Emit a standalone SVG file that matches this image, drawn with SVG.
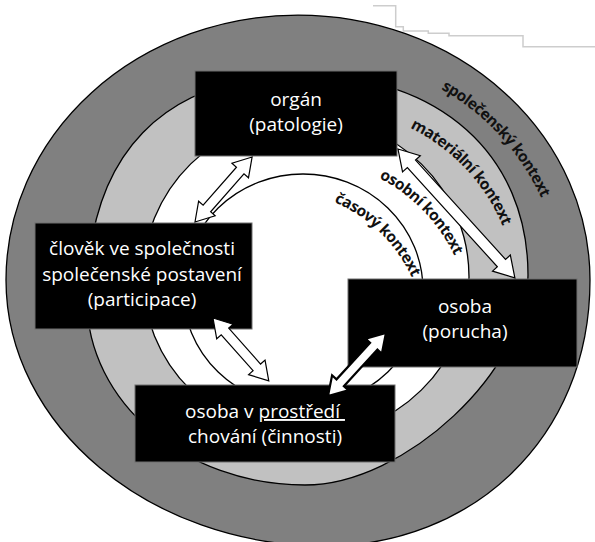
<svg xmlns="http://www.w3.org/2000/svg" width="595" height="542" viewBox="0 0 595 542">
  <defs>
    <style>
      .ring { stroke: #000; stroke-width: 1.3; }
      .box { fill: #000; stroke: #6e6e6e; stroke-width: 1; }
      .lbl { font-family: "Open Sans", "Noto Sans", "DejaVu Sans", sans-serif; font-size: 19px; fill: #fff; text-anchor: middle; }
      .ctx { font-family: "Open Sans", "Noto Sans", "DejaVu Sans", sans-serif; font-size: 15.5px; font-weight: 700; letter-spacing: -0.5px; fill: #111; }
      .arrow { fill: #fff; stroke: #000; stroke-width: 1.2; stroke-linejoin: miter; }
      .arrow.bold { stroke-width: 2.2; }
    </style>
    <!-- baselines for the context labels -->
    <path id="p-spol" d="M 441,89 A 240 240 0 0 1 560,260"/>
    <path id="p-mat" d="M 410,128 A 190 190 0 0 1 515,270"/>
    <path id="p-osob" d="M 379,178 A 170 170 0 0 1 468,297"/>
    <path id="p-cas" d="M 334,202 A 150 150 0 0 1 420,300"/>
  </defs>

  <rect width="595" height="542" fill="#fff"/>

  <!-- stepped rule in the top-right corner -->
  <polyline points="373,5.7 395.7,5.7 395.7,26.7 403.3,26.7 403.3,31 428.3,31 428.3,33.3 449,33.3 449,35.7 523,35.7 523,46.7 595,46.7" fill="none" stroke="#cdcdcd" stroke-width="1.5"/>

  <!-- nested context rings -->
  <g id="rings">
    <path class="ring" fill="#808080" d="M 6,280 A 292 265 0 0 1 590,280 C 590,440 470,546 325,546 C 150,546 6,426 6,280 Z"/>
    <path class="ring" fill="#c1c1c1" d="M 87,300 C 87,154 163,75 305,75 C 439,75 528,155 528,275 C 528,370 405,485 305,485 C 185,485 87,402 87,300 Z"/>
    <ellipse class="ring" fill="#fff" cx="306" cy="277" rx="163" ry="160"/>
    <ellipse class="ring" fill="#fff" cx="303" cy="290" rx="120" ry="116"/>
  </g>

  <g id="ring-labels">
    <text class="ctx"><textPath href="#p-spol">společenský kontext</textPath></text>
    <text class="ctx"><textPath href="#p-mat">materiální kontext</textPath></text>
    <text class="ctx"><textPath href="#p-osob">osobní kontext</textPath></text>
    <text class="ctx"><textPath href="#p-cas">časový kontext</textPath></text>
  </g>

  <g id="organ">
    <rect class="box" x="195" y="71" width="202" height="85"/>
    <text class="lbl" x="296" y="106">orgán</text>
    <text class="lbl" x="296" y="131">(patologie)</text>
  </g>

  <g id="clovek">
    <rect class="box" x="35" y="223" width="217" height="106"/>
    <text class="lbl" x="142" y="255">člověk ve společnosti</text>
    <text class="lbl" x="142" y="281">společenské postavení</text>
    <text class="lbl" x="142" y="306">(participace)</text>
  </g>

  <g id="osoba">
    <rect class="box" x="348" y="279" width="229" height="88"/>
    <text class="lbl" x="465" y="313">osoba</text>
    <text class="lbl" x="465" y="338">(porucha)</text>
  </g>

  <g id="prostredi">
    <rect class="box" x="135" y="385" width="260" height="77"/>
    <text class="lbl" x="265" y="418">osoba v <tspan text-decoration="underline">prostředí&#160;</tspan></text>
    <text class="lbl" x="265" y="443">chování (činnosti)</text>
  </g>

  <!-- two-headed arrows between the levels -->
  <g id="connectors">
    <path class="arrow" transform="translate(195,222) rotate(-48.7)" d="M0,0 L18,-11 L18,-5 L68.5,-5 L68.5,-11 L86.5,0 L68.5,11 L68.5,5 L18,5 L18,11 Z"/>
    <path class="arrow" transform="translate(213,318) rotate(48.4)" d="M0,0 L18,-11 L18,-5 L66,-5 L66,-11 L84,0 L66,11 L66,5 L18,5 L18,11 Z"/>
    <path class="arrow bold" transform="translate(328,396) rotate(-47.4)" d="M0,0 L18,-11 L18,-5 L67.6,-5 L67.6,-11 L85.6,0 L67.6,11 L67.6,5 L18,5 L18,11 Z"/>
    <path class="arrow" transform="translate(398,149) rotate(47.8)" d="M0,0 L20,-12 L20,-5.5 L154,-5.5 L154,-12 L174,0 L154,12 L154,5.5 L20,5.5 L20,12 Z"/>
  </g>
</svg>
